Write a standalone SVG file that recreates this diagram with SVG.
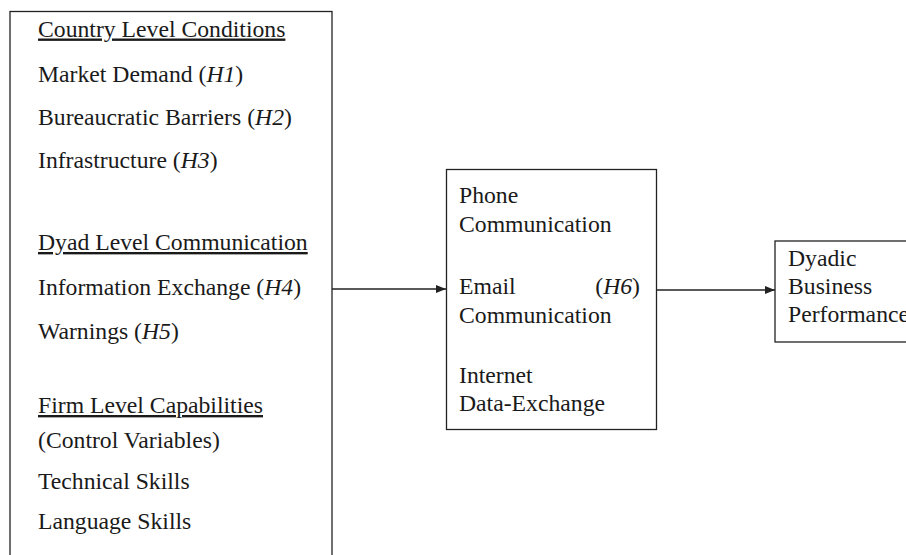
<svg xmlns="http://www.w3.org/2000/svg" width="906" height="555" viewBox="0 0 906 555">
  <defs>
    <style>
      .box { fill: #ffffff; stroke: #222222; stroke-width: 1.3; }
      .lbl { font-family: "Liberation Serif", "Times New Roman", serif; font-size: 23.7px; fill: #1a1a1a; }
      .hd { text-decoration: underline; }
      .it { font-style: italic; }
      .edge { fill: none; stroke: #222222; stroke-width: 1.4; }
    </style>
    <marker id="arrow" viewBox="0 0 10 8" refX="10" refY="4" markerWidth="10" markerHeight="8" markerUnits="userSpaceOnUse" orient="auto">
      <path d="M0,0 L10,4 L0,8 Z" fill="#222222"/>
    </marker>
  </defs>
  <rect width="906" height="555" fill="#ffffff"/>

  <!-- Antecedents: country, dyad and firm level factors -->
  <g id="antecedents">
    <rect class="box" x="10" y="11.5" width="322" height="600"/>
    <text class="lbl hd" x="38" y="36.5">Country Level Conditions</text>
    <text class="lbl" x="38" y="82">Market Demand (<tspan class="it">H1</tspan>)</text>
    <text class="lbl" x="38" y="125">Bureaucratic Barriers (<tspan class="it">H2</tspan>)</text>
    <text class="lbl" x="38" y="168">Infrastructure (<tspan class="it">H3</tspan>)</text>
    <text class="lbl hd" x="38" y="250">Dyad Level Communication</text>
    <text class="lbl" x="38" y="295">Information Exchange (<tspan class="it">H4</tspan>)</text>
    <text class="lbl" x="38" y="339">Warnings (<tspan class="it">H5</tspan>)</text>
    <text class="lbl hd" x="38" y="413">Firm Level Capabilities</text>
    <text class="lbl" x="38" y="448">(Control Variables)</text>
    <text class="lbl" x="38" y="489">Technical Skills</text>
    <text class="lbl" x="38" y="529">Language Skills</text>
  </g>

  <!-- Communication channels -->
  <g id="channels">
    <rect class="box" x="446.5" y="169.5" width="210" height="260"/>
    <text class="lbl" x="459" y="203">Phone</text>
    <text class="lbl" x="459" y="232">Communication</text>
    <text class="lbl" x="459" y="294">Email</text>
    <text class="lbl" x="640" y="294" text-anchor="end">(<tspan class="it">H6</tspan>)</text>
    <text class="lbl" x="459" y="323">Communication</text>
    <text class="lbl" x="459" y="383">Internet</text>
    <text class="lbl" x="459" y="411">Data-Exchange</text>
  </g>

  <!-- Outcome -->
  <g id="performance">
    <rect class="box" x="775" y="241" width="200" height="101"/>
    <text class="lbl" x="788" y="266">Dyadic</text>
    <text class="lbl" x="788" y="294">Business</text>
    <text class="lbl" x="788" y="322">Performance</text>
  </g>

  <!-- Connectors -->
  <g id="connectors">
    <line class="edge" x1="332" y1="289" x2="446" y2="289" marker-end="url(#arrow)"/>
    <line class="edge" x1="657" y1="290" x2="775" y2="290" marker-end="url(#arrow)"/>
  </g>
</svg>
